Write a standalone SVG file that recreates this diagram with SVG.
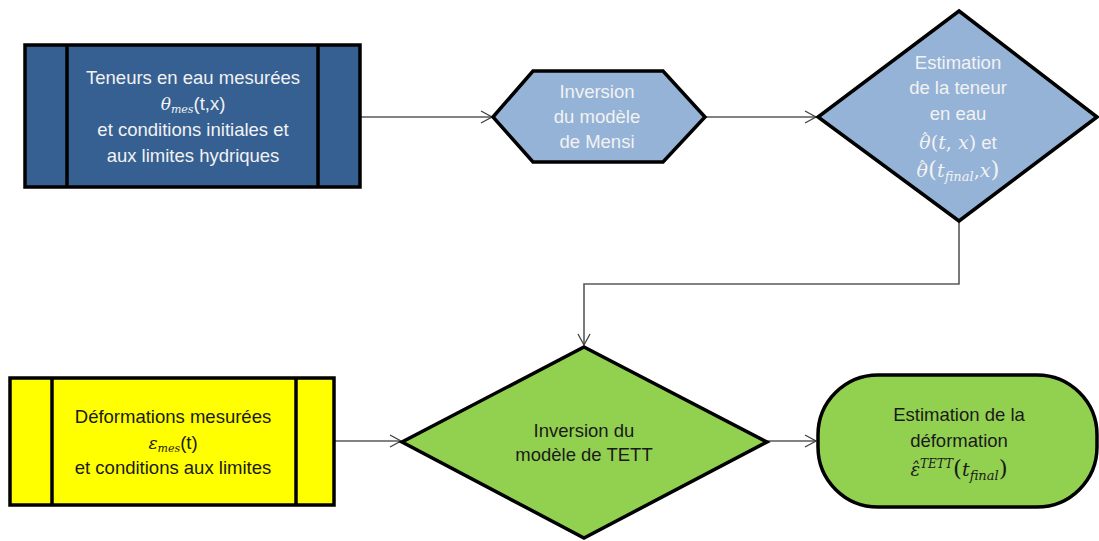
<svg xmlns="http://www.w3.org/2000/svg" width="1099" height="541" viewBox="0 0 1099 541">
  <defs>
    <marker id="arr" markerWidth="14" markerHeight="14" refX="12" refY="7" orient="auto" markerUnits="userSpaceOnUse">
      <path d="M1,1 L12,7 L1,13" fill="none" stroke="#404040" stroke-width="1.3"/>
    </marker>
    <style>
      .shape { stroke: #000; stroke-width: 3.5; stroke-linejoin: miter; }
      .t { font-family: "Liberation Sans", "DejaVu Sans", sans-serif; font-size: 18.5px; text-anchor: middle; }
      .w { fill: #F2F2F2; }
      .d { fill: #1A1A1A; }
      .m { font-family: "DejaVu Serif", "Liberation Serif", serif; font-style: italic; }
      .n { font-family: "DejaVu Serif", "Liberation Serif", serif; font-style: normal; }
      .conn { fill: none; stroke: #595959; stroke-width: 1.6; }
    </style>
  </defs>
  <rect width="1099" height="541" fill="#fff"/>

  <g id="connectors">
    <path class="conn" d="M361,117 L492,117" marker-end="url(#arr)"/>
    <path class="conn" d="M705,117 L816,117" marker-end="url(#arr)"/>
    <path class="conn" d="M959,222 L959,284 L584,284 L584,345" marker-end="url(#arr)"/>
    <path class="conn" d="M335,441 L401,441" marker-end="url(#arr)"/>
    <path class="conn" d="M767,441 L816,441" marker-end="url(#arr)"/>
  </g>

  <g id="n1">
    <rect class="shape" x="25" y="45" width="335" height="142" fill="#366092"/>
    <line class="shape" x1="67" y1="45" x2="67" y2="187"/>
    <line class="shape" x1="318" y1="45" x2="318" y2="187"/>
    <text class="t w" x="193" y="84">Teneurs en eau mesurées</text>
    <text class="t w" x="193" y="110"><tspan class="m" font-size="17">θ</tspan><tspan class="m" font-size="11" dy="3">mes</tspan><tspan dy="-3">(t,x)</tspan></text>
    <text class="t w" x="193" y="136">et conditions initiales et</text>
    <text class="t w" x="193" y="162">aux limites hydriques</text>
  </g>

  <g id="n2">
    <polygon class="shape" points="493,117 533,71 663,71 705,117 663,162 533,162" fill="#95B3D7"/>
    <text class="t w" x="597" y="98">Inversion</text>
    <text class="t w" x="597" y="123">du modèle</text>
    <text class="t w" x="597" y="148">de Mensi</text>
  </g>

  <g id="n3">
    <polygon class="shape" points="959,11 1097,117 959,221 818,117" fill="#95B3D7"/>
    <text class="t w" x="958" y="69">Estimation</text>
    <text class="t w" x="958" y="94">de la teneur</text>
    <text class="t w" x="958" y="120">en eau</text>
    <text class="t w" x="958" y="149"><tspan class="m" font-size="19">θ</tspan><tspan class="n" font-size="15" dx="-9.5" dy="-5">ˆ</tspan><tspan class="n" font-size="19" dx="2" dy="5">(</tspan><tspan class="m" font-size="19">t</tspan><tspan class="n" font-size="19">, </tspan><tspan class="m" font-size="19">x</tspan><tspan class="n" font-size="19">)</tspan> et</text>
    <text class="t w" x="958" y="177"><tspan class="m" font-size="19">θ</tspan><tspan class="n" font-size="15" dx="-9.5" dy="-5">ˆ</tspan><tspan class="n" font-size="23" dx="2" dy="5">(</tspan><tspan class="m" font-size="19">t</tspan><tspan class="m" font-size="13" dy="4">final</tspan><tspan class="n" font-size="19" dy="-4">,</tspan><tspan class="m" font-size="19">x</tspan><tspan class="n" font-size="23">)</tspan></text>
  </g>

  <g id="n4">
    <rect class="shape" x="10" y="378" width="324" height="127" fill="#FFFF00"/>
    <line class="shape" x1="52" y1="378" x2="52" y2="505"/>
    <line class="shape" x1="296" y1="378" x2="296" y2="505"/>
    <text class="t d" x="173" y="423">Déformations mesurées</text>
    <text class="t d" x="173" y="449"><tspan class="m" font-size="17">ε</tspan><tspan class="m" font-size="11" dy="3">mes</tspan><tspan dy="-3">(t)</tspan></text>
    <text class="t d" x="173" y="474">et conditions aux limites</text>
  </g>

  <g id="n5">
    <polygon class="shape" points="584,347 767,442 584,538 402,442" fill="#92D050"/>
    <text class="t d" x="584" y="437">Inversion du</text>
    <text class="t d" x="584" y="461">modèle de TETT</text>
  </g>

  <g id="n6">
    <rect class="shape" x="818" y="375" width="279" height="132" rx="60" ry="60" fill="#92D050"/>
    <text class="t d" x="959" y="421">Estimation de la</text>
    <text class="t d" x="959" y="447">déformation</text>
    <text class="t d" x="959" y="476"><tspan class="m" font-size="18">ε̂</tspan><tspan class="m" font-size="12" dy="-8">TETT</tspan><tspan class="n" font-size="23" dy="8">(</tspan><tspan class="m" font-size="19">t</tspan><tspan class="m" font-size="13" dy="4">final</tspan><tspan class="n" font-size="23" dy="-4">)</tspan></text>
  </g>
</svg>
